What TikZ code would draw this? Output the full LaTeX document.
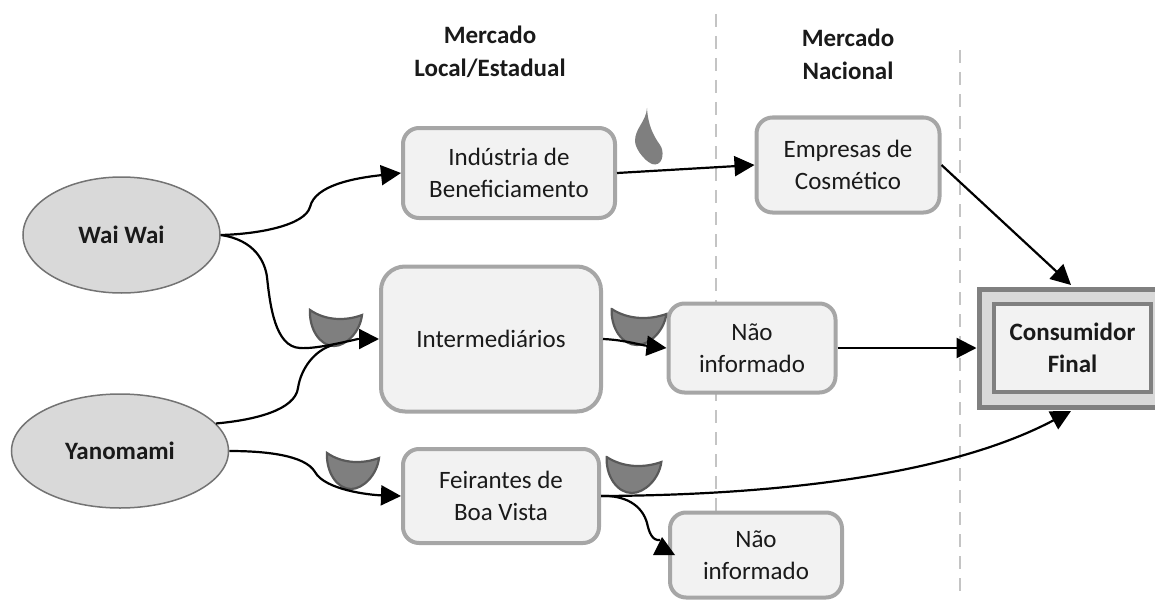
\documentclass[tikz,border=0pt]{standalone}
\usepackage{fontspec}
\setmainfont{Carlito}
\usetikzlibrary{arrows.meta,shapes.geometric}
\definecolor{boxedge}{HTML}{A6A6A6}
\definecolor{boxfill}{HTML}{F2F2F2}
\definecolor{ovalfill}{HTML}{D9D9D9}
\definecolor{dashcol}{HTML}{C4C4C4}
\definecolor{cupfill}{HTML}{7F7F7F}
\definecolor{cupedge}{HTML}{595959}
\definecolor{txt}{HTML}{1A1A1A}
\tikzset{
  x=1pt,y=-1pt,
  txtstyle/.style={text=txt,font=\fontsize{25}{32}\selectfont,align=center,inner sep=0pt},
  actor/.style={draw=boxedge,fill=boxfill,line width=4pt,rounded corners=16pt,txtstyle},
  oval/.style={ellipse,draw=black!55,fill=ovalfill,line width=1.5pt,inner sep=0pt,
     text=txt,font=\fontsize{25}{30}\selectfont\bfseries},
  heading/.style={text=txt,font=\fontsize{25}{33}\selectfont\bfseries,align=center,inner sep=0pt},
  flow/.style={line width=2.2pt,draw=black,-{Triangle[length=20pt,width=20pt]}},
  plainflow/.style={line width=2.2pt,draw=black},
  divider/.style={draw=dashcol,line width=2.5pt,dash pattern=on 13pt off 9pt},
  cup/.pic={\draw[fill=cupfill,draw=cupedge,line width=2.2pt]
     (-26,-17) .. controls (-10,-6) and (10,-6) .. (26,-12)
     .. controls (24,5) and (10,19) .. (-2,19)
     .. controls (-16,19) and (-27,2) .. cycle;},
}
\begin{document}
\begin{tikzpicture}
\path[use as bounding box,clip] (0,0) rectangle (1155,599);
\coordinate (d1a) at (716,14); \coordinate (d1b) at (716,599);
\coordinate (d2a) at (960,50); \coordinate (d2b) at (960,599);
\draw[divider] (d1a) -- (d1b);
\draw[divider] (d2a) -- (d2b);

\node[heading] (h1) at (490,52) {Mercado\\Local/Estadual};
\node[heading] (h2) at (848,54) {Mercado\\Nacional};

\node[oval,minimum width=197pt,minimum height=116pt] (wai) at (121.5,235) {Wai Wai};
\node[oval,minimum width=217pt,minimum height=114pt] (yan) at (120,451) {Yanomami};

\node[actor,minimum width=212pt,minimum height=90pt] (ind) at (509,173) {Indústria de\\Beneficiamento};
\node[actor,minimum width=183pt,minimum height=95pt] (emp) at (848,165) {Empresas de\\Cosmético};
\node[actor,minimum width=220pt,minimum height=145pt,rounded corners=24pt] (int) at (491,339) {Intermediários};
\node[actor,minimum width=167pt,minimum height=89pt] (ni1) at (752,348) {Não\\informado};
\node[actor,minimum width=196pt,minimum height=94pt] (fei) at (501,496) {Feirantes de\\Boa Vista};
\node[actor,minimum width=172pt,minimum height=85pt] (ni2) at (756,555) {Não\\informado};

\node[draw=black!50,fill=ovalfill,line width=5pt,minimum width=200pt,minimum height=118pt,inner sep=0pt] (cfo) at (1079,348) {};
\node[draw=black!50,fill=boxfill,line width=4pt,minimum width=157pt,minimum height=88pt,inner sep=0pt,
  text=txt,font=\fontsize{25}{32}\selectfont\bfseries,align=center] (cf) at (1072.5,348) {Consumidor\\Final};

\pic at (336,327) {cup};
\pic[xscale=1.05] at (639,326) {cup};
\pic at (353,470) {cup};
\pic[xscale=1.05] at (634,474) {cup};

\fill[cupfill] (647,108) .. controls (646,122) and (635,128) .. (635,141)
  .. controls (635,150) and (648,165) .. (655,164.5)
  .. controls (664,164) and (664,150) .. (660,145)
  .. controls (653,135) and (648,125) .. cycle;

\coordinate (j1) at (358,339);
\coordinate (t1) at (1071,285);
\coordinate (t3) at (1071,411);
\draw[plainflow] (wai.east) .. controls (255,240) and (265,262) .. (267,277)
  .. controls (270,305) and (275,347) .. (300,348) .. controls (315,349) and (340,343) .. (j1);
\draw[plainflow] (yan.16) .. controls (255,420) and (295,410) .. (298,388)
  .. controls (301,368) and (315,350) .. (333,345);
\draw[flow] (j1) -- (int.west);
\draw[flow] (wai.east) .. controls (260,234) and (305,225) .. (310,207) .. controls (315,185) and (355,178) .. (ind.west);
\draw[flow] (yan.east) .. controls (265,451) and (305,455) .. (315,472) .. controls (325,490) and (370,495) .. (fei.west);
\draw[flow] (ind.east) -- (emp.west);
\draw[flow] (emp.east) -- (t1);
\draw[flow] (int.east) .. controls (625,340) and (640,345) .. (ni1.west);
\draw[flow] (ni1.east) -- (cfo.west);
\draw[flow] (fei.east) .. controls (800,495) and (960,470) .. (t3);
\coordinate (t2) at (660,540);
\draw[plainflow] (fei.east) .. controls (625,495) and (642,505) .. (647,523) .. controls (649,532) and (652,541) .. (t2);
\fill[black] (662,537) -- (675,555) -- (653,555) -- cycle;
\end{tikzpicture}
\end{document}
